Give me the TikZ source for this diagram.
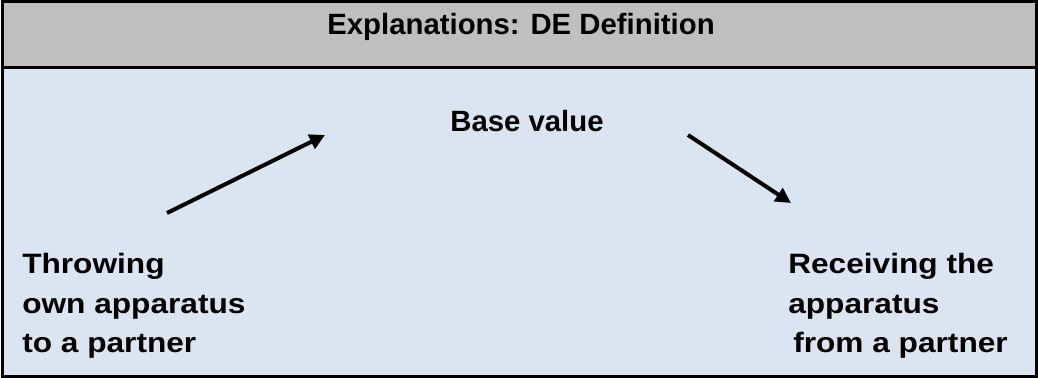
\documentclass[tikz,border=0pt]{standalone}
\usepackage{graphicx}
\usepackage{fontspec}
\setmainfont{Liberation Sans}
\usetikzlibrary{arrows.meta}
\definecolor{hdrgray}{HTML}{BFBFBF}
\definecolor{bodyblue}{HTML}{DBE5F1}
\newcommand\widetxt[1]{\scalebox{1.13}[1]{#1}}
\tikzset{
  lbl/.style={font=\fontsize{21}{25}\selectfont\bfseries, inner sep=0pt},
  ttl/.style={font=\fontsize{22}{26}\selectfont\bfseries, inner sep=0pt},
  arr/.style={line width=3pt, -{Triangle[length=11.5pt,width=11.5pt]}},
}
\begin{document}
\begin{tikzpicture}[x=0.75pt,y=-0.75pt]
\useasboundingbox (0,0) rectangle (1038,378);
% panels
\fill[hdrgray] (2,2) rectangle (1036,67.5);
\fill[bodyblue] (2,67.5) rectangle (1036,376);
\draw[line width=2.25pt] (2,67.5) -- (1036,67.5);
\draw[line width=2.25pt] (2,2) rectangle (1036,376);
% texts
\node[ttl, anchor=base] (title) at (521,35) {Explanations: DE Definition};
\node[ttl, anchor=base] (base) at (527,131) {Base value};
\node[lbl, anchor=base west] (l1) at (22,273) {\widetxt{Throwing}};
\node[lbl, anchor=base west] (l2) at (22,313) {\widetxt{own apparatus}};
\node[lbl, anchor=base west] (l3) at (22,352) {\widetxt{to a partner}};
\node[lbl, anchor=base west] (r1) at (788,273) {\widetxt{Receiving the}};
\node[lbl, anchor=base west] (r2) at (788,313) {\widetxt{apparatus}};
\node[lbl, anchor=base west] (r3) at (793,352) {\widetxt{from a partner}};
% arrows
\coordinate (a1s) at (167,213);
\coordinate (a1e) at (325,135);
\coordinate (a2s) at (688,135);
\coordinate (a2e) at (791,203);
\draw[arr] (a1s) -- (a1e);
\draw[arr] (a2s) -- (a2e);
\end{tikzpicture}
\end{document}
